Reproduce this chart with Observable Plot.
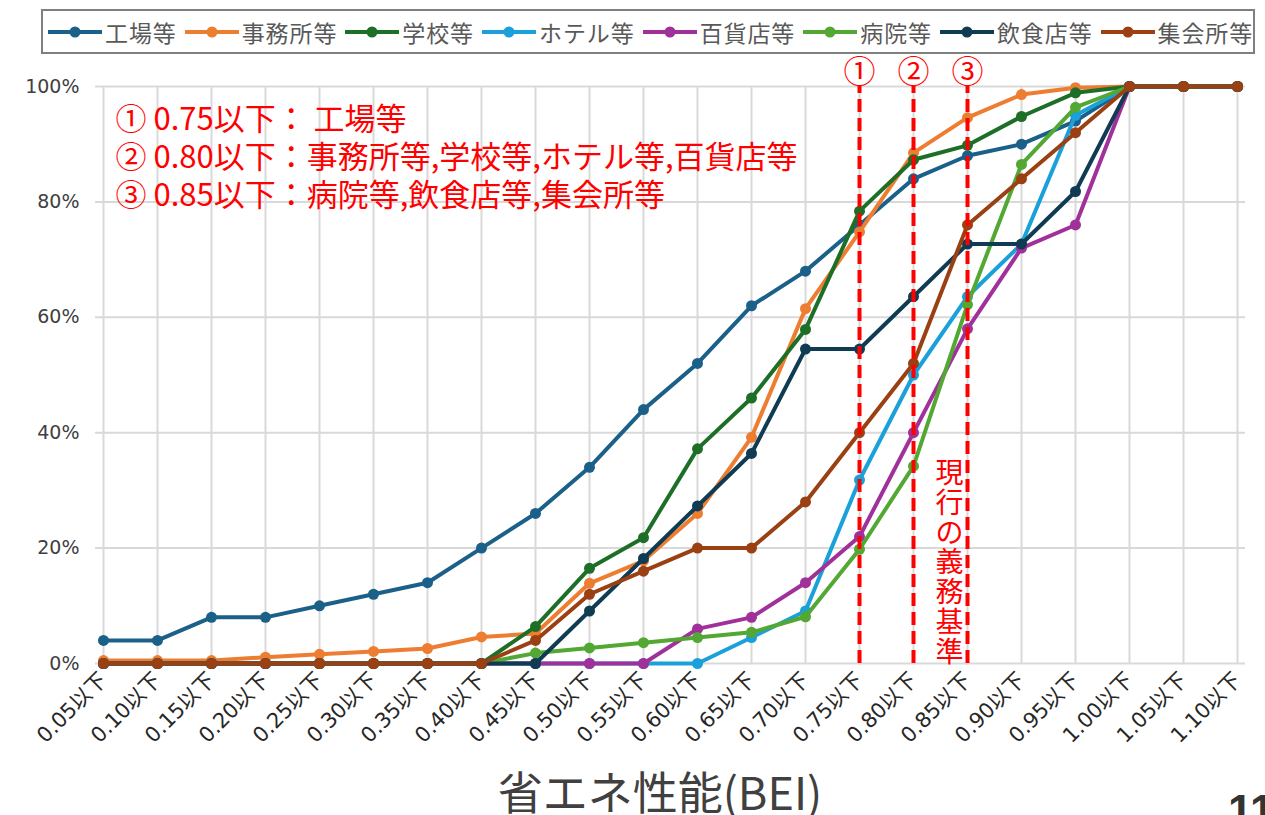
<!DOCTYPE html>
<html><head><meta charset="utf-8">
<script src="https://cdn.jsdelivr.net/npm/d3@7"></script>
<script src="https://cdn.jsdelivr.net/npm/@observablehq/plot@0.6"></script>
<style>
body{margin:0;background:#fff;font-family:"Noto Sans CJK JP",sans-serif;}
#wrap{position:relative;width:1265px;height:815px;overflow:hidden;}
#chart{position:absolute;left:0;top:0;}
#legend{position:absolute;left:41px;top:9px;width:1214px;height:45px;box-sizing:border-box;border:2px solid #7f7f7f;display:flex;align-items:center;padding-left:5px;background:#fff;}
.item{display:flex;align-items:center;margin-right:8px;font-size:23px;letter-spacing:0.9px;color:#595959;white-space:nowrap;}
.item svg{margin-right:3px;}
#title{position:absolute;left:0;width:1320px;text-align:center;top:768px;font-size:45px;color:#404040;line-height:1;}
#page{position:absolute;left:1228px;top:789px;font:bold 44px "Liberation Sans",sans-serif;line-height:1;color:#333;}
</style></head>
<body><div id="wrap"><div id="chart"></div><div id="legend"></div><div id="title">省エネ性能(BEI)</div><div id="page">11</div></div>
<script>
const categories = ["0.05以下","0.10以下","0.15以下","0.20以下","0.25以下","0.30以下","0.35以下","0.40以下","0.45以下","0.50以下","0.55以下","0.60以下","0.65以下","0.70以下","0.75以下","0.80以下","0.85以下","0.90以下","0.95以下","1.00以下","1.05以下","1.10以下"];
const seriesNames = ["工場等","事務所等","学校等","ホテル等","百貨店等","病院等","飲食店等","集会所等"];
const seriesColors = ["#1b6089","#ed7d31","#1d6f27","#1aa1d9","#a0309a","#52a833","#0f3b53","#9a4013"];
const factory  = [4,4,8,8,10,12,14,20,26,34,44,52,62,68,76,84,88,90,94,100,100,100];
const office   = [0.5,0.5,0.5,1.1,1.6,2.1,2.6,4.6,5.2,13.9,17.8,26,39.2,61.5,74.8,88.5,94.6,98.6,99.8,100,100,100];
const school   = [0,0,0,0,0,0,0,0,6.4,16.5,21.8,37.2,46,57.9,78.4,87.3,89.8,94.8,98.9,100,100,100];
const hotel    = [0,0,0,0,0,0,0,0,0,0,0,0,4.5,9.1,31.8,50,63.6,72.7,95,100,100,100];
const dept     = [0,0,0,0,0,0,0,0,0,0,0,6,8,14,22,40,58,72,76,100,100,100];
const hospital = [0,0,0,0,0,0,0,0,1.8,2.7,3.6,4.5,5.4,8.1,19.8,34.2,62.2,86.5,96.4,100,100,100];
const restaurant = [0,0,0,0,0,0,0,0,0,9.1,18.2,27.3,36.4,54.5,54.5,63.6,72.7,72.7,81.8,100,100,100];
const hall     = [0,0,0,0,0,0,0,0,4,12,16,20,20,28,40,52,76,84,92,100,100,100];
const seriesValues = [factory, office, school, hotel, dept, hospital, restaurant, hall];
const yTicks = [0,20,40,60,80,100];
const thresholds = ["0.75以下","0.80以下","0.85以下"];
const thresholdLabels = ["①","②","③"];
const noteLines = ["① 0.75以下： 工場等","② 0.80以下：事務所等,学校等,ホテル等,百貨店等","③ 0.85以下：病院等,飲食店等,集会所等"];
const verticalNote = "現行の義務基準";

const data = seriesNames.flatMap((s, si) => categories.map((c, i) => ({series: s, cat: c, value: seriesValues[si][i]})));

const seriesMarks = seriesNames.flatMap(s => {
  const d = data.filter(r => r.series === s);
  return [
    Plot.line(d, {x: "cat", y: "value", stroke: "series", strokeWidth: 4, strokeLinejoin: "round"}),
    Plot.dot(d, {x: "cat", y: "value", fill: "series", r: 5.5})
  ];
});

const wideFont = '"DejaVu Sans", "Noto Sans CJK JP", sans-serif';

const chart = Plot.plot({
  width: 1265, height: 815,
  marginLeft: 95, marginRight: 20, marginTop: 86, marginBottom: 152,
  style: {fontFamily: '"Noto Sans CJK JP", sans-serif', background: "transparent", overflow: "visible"},
  x: {type: "point", domain: categories, padding: 0},
  y: {domain: [0, 100]},
  color: {domain: seriesNames, range: seriesColors},
  marks: [
    Plot.gridX({stroke: "#d9d9d9", strokeOpacity: 1, strokeWidth: 2}),
    Plot.gridY(yTicks, {stroke: "#d9d9d9", strokeOpacity: 1, strokeWidth: 2}),
    Plot.axisY(yTicks, {tickFormat: d => d + "%", tickSize: 0, tickPadding: 16, fontSize: 19, fontFamily: wideFont, color: "#404040", label: null}),
    Plot.axisX({tickRotate: -45, tickSize: 0, tickPadding: 13, fontSize: 21, fontFamily: wideFont, color: "#262626", label: null}),
    ...seriesMarks,
    Plot.ruleX(thresholds, {x: d => d, y1: 0, y2: 100, stroke: "#ff0000", strokeWidth: 4, strokeDasharray: "13,6"}),
    Plot.text(thresholds, {x: d => d, y: 100, text: (d, i) => thresholdLabels[i], dy: -14, fontSize: 32, fill: "#ff0000", lineAnchor: "middle"}),
    Plot.text([noteLines.join("\n")], {frameAnchor: "top-left", text: d => d, dx: 20, dy: 16, fontSize: 31, lineHeight: 1.23, fill: "#ff0000", textAnchor: "start", lineAnchor: "top"}),
    Plot.text([verticalNote], {x: () => "0.85以下", y: () => 0, text: d => d.split("").join("\n"), dx: -18, dy: -2, fontSize: 28, lineHeight: 1.06, fill: "#ff0000", lineAnchor: "bottom"})
  ]
});
document.getElementById("chart").appendChild(chart);

const legend = document.getElementById("legend");
seriesNames.forEach((s, i) => {
  const item = document.createElement("div");
  item.className = "item";
  item.innerHTML = `<svg width="54" height="14"><line x1="0" x2="54" y1="7" y2="7" stroke="${seriesColors[i]}" stroke-width="4" stroke-linecap="round"/><circle cx="27" cy="7" r="5.5" fill="${seriesColors[i]}"/></svg><span>${s}</span>`;
  legend.appendChild(item);
});
</script>
</body></html>
